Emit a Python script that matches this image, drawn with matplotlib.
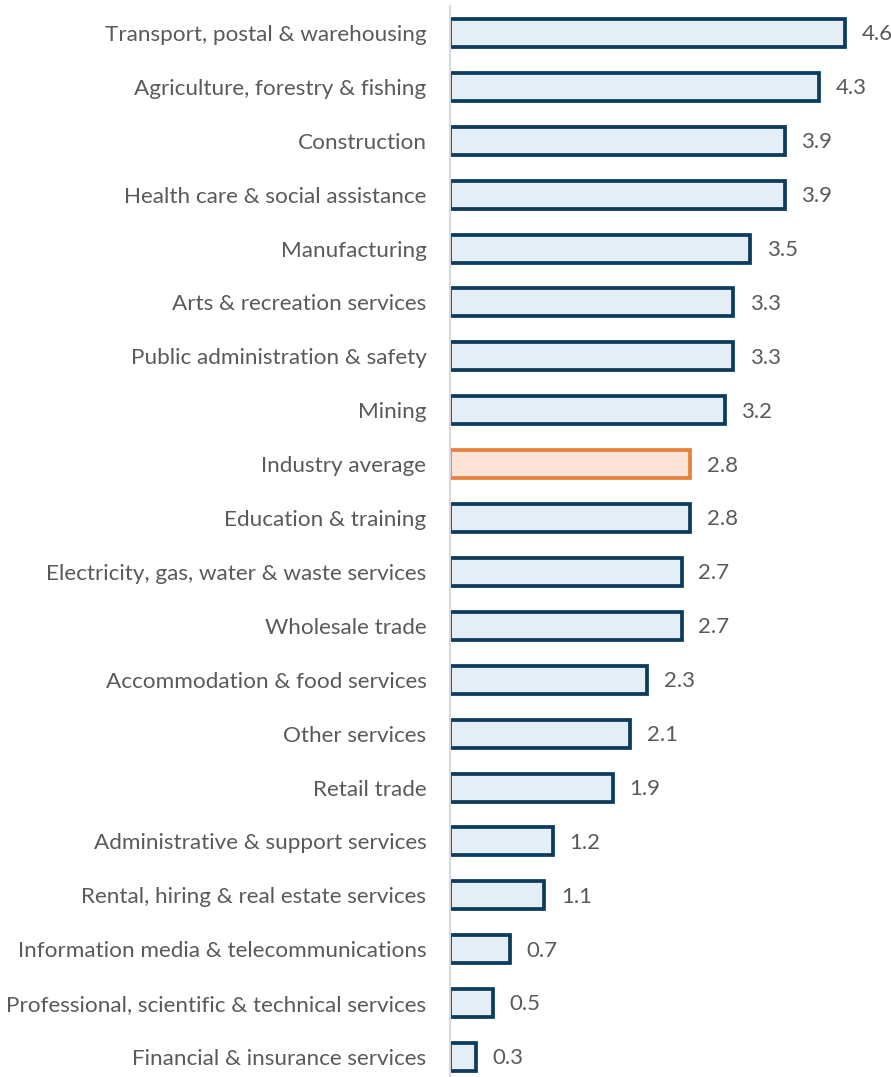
import matplotlib.pyplot as plt

industries = [
    'Transport, postal & warehousing',
    'Agriculture, forestry & fishing',
    'Construction',
    'Health care & social assistance',
    'Manufacturing',
    'Arts & recreation services',
    'Public administration & safety',
    'Mining',
    'Industry average',
    'Education & training',
    'Electricity, gas, water & waste services',
    'Wholesale trade',
    'Accommodation & food services',
    'Other services',
    'Retail trade',
    'Administrative & support services',
    'Rental, hiring & real estate services',
    'Information media & telecommunications',
    'Professional, scientific & technical services',
    'Financial & insurance services',
]
values = [4.6, 4.3, 3.9, 3.9, 3.5, 3.3, 3.3, 3.2, 2.8, 2.8,
          2.7, 2.7, 2.3, 2.1, 1.9, 1.2, 1.1, 0.7, 0.5, 0.3]

navy = '#0b3c5d'
navy_fill = '#e4eef6'
orange = '#e8803a'
orange_fill = '#fbe4d7'
text_col = '#5a5a5a'

plt.rcParams['font.family'] = ['Lato', 'DejaVu Sans']

fig = plt.figure(figsize=(8.91, 10.77), dpi=100)
ax = fig.add_axes([450 / 891, 0, 441 / 891, 1071 / 1077])

pos = list(range(len(industries)))
edges = [orange if name == 'Industry average' else navy for name in industries]
fills = [orange_fill if name == 'Industry average' else navy_fill for name in industries]
ax.barh(pos, values, height=0.52, color=fills, edgecolor=edges, linewidth=2.7)

for y, v in zip(pos, values):
    ax.annotate(f'{v:.1f}', (v, y), xytext=(12, -1), textcoords='offset points',
                ha='left', va='center', fontsize=16, color=text_col)

ax.set_xlim(0, 5.14)
ax.set_ylim(19 + 20 / 53.9, -0.5)
ax.set_yticks(pos)
ax.set_yticklabels(industries, fontsize=16.2, color=text_col)
ax.tick_params(axis='y', length=0, pad=17)
ax.set_xticks([])
for side in ['top', 'right', 'bottom']:
    ax.spines[side].set_visible(False)
ax.spines['left'].set_color('#d9d9d9')
ax.spines['left'].set_linewidth(1.5)

fig.savefig('out.png', dpi=100)
